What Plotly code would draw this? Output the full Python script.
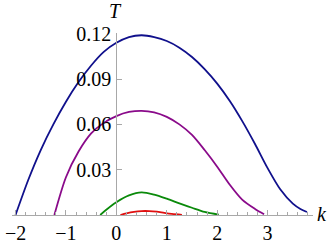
import plotly.graph_objects as go

# Data
k_blue = [-2.0, -1.75, -1.5, -1.25, -1.0, -0.75, -0.5, -0.25, 0.0, 0.25, 0.5, 0.75, 1.0,
          1.25, 1.5, 1.75, 2.0, 2.25, 2.5, 2.75, 3.0, 3.25, 3.5, 3.65, 3.78]
T_blue = [0.0, 0.023, 0.043, 0.060, 0.075, 0.088, 0.099, 0.108, 0.114, 0.1178, 0.119, 0.1178,
          0.1152, 0.1108, 0.1046, 0.0966, 0.087, 0.0755, 0.062, 0.047, 0.031, 0.0170, 0.0075,
          0.0040, 0.0020]

k_purple = [-1.23, -1.0, -0.75, -0.5, -0.25, 0.0, 0.25, 0.5, 0.75, 1.0, 1.25, 1.5, 1.75,
            2.0, 2.25, 2.5, 2.75, 2.93]
T_purple = [0.0, 0.025, 0.042, 0.054, 0.061, 0.0655, 0.0682, 0.069, 0.068, 0.065, 0.060, 0.053,
            0.043, 0.032, 0.020, 0.010, 0.004, 0.0005]

k_green = [-0.32, -0.2, 0.0, 0.25, 0.5, 0.75, 1.0, 1.25, 1.5, 1.75, 2.03]
T_green = [0.0, 0.0035, 0.0085, 0.013, 0.015, 0.0135, 0.0108, 0.0077, 0.0048, 0.002, 0.0002]

k_red = [0.08, 0.2, 0.35, 0.5, 0.65, 0.8, 0.95, 1.1, 1.3]
T_red = [0.0, 0.0011, 0.0021, 0.0026, 0.0026, 0.0022, 0.0014, 0.0007, 0.0001]

x_ticks = [-2, -1, 0, 1, 2, 3]
y_ticks = [0.03, 0.06, 0.09, 0.12]
y_tick_text = ["0.03", "0.06", "0.09", "0.12"]

series = [
    (k_blue, T_blue, "#10108C"),
    (k_purple, T_purple, "#8A0A8A"),
    (k_green, T_green, "#0A8A0A"),
    (k_red, T_red, "#E01010"),
]

fig = go.Figure()
for kx, ty, col in series:
    fig.add_trace(go.Scatter(x=kx, y=ty, mode="lines",
                             line=dict(color=col, width=1.8, shape="spline", smoothing=0.8),
                             showlegend=False, hoverinfo="skip"))

xmin, xmax = -2.07, 3.9
axis_col = "#A8A8A8"
font = dict(family="Liberation Serif, Tinos, serif", size=20, color="black")

fig.update_layout(
    width=327, height=245,
    margin=dict(l=12, r=14, t=33, b=30, autoexpand=False),
    paper_bgcolor="white", plot_bgcolor="white",
    xaxis=dict(range=[xmin, xmax], showgrid=False, zeroline=False, automargin=False,
               showline=True, linecolor=axis_col, linewidth=1,
               tickvals=x_ticks, ticks="inside", ticklen=5, tickcolor=axis_col,
               tickfont=font, ticklabelstandoff=0, ticklabeloverflow="allow",
               minor=dict(dtick=0.2, tick0=0, ticks="inside", ticklen=3, tickcolor=axis_col,
                          showgrid=False)),
    yaxis=dict(range=[0, 0.1205], showgrid=False, zeroline=False, automargin=False,
               showline=True, linecolor=axis_col, linewidth=1,
               anchor="free", position=(0 - xmin) / (xmax - xmin),
               tickvals=y_ticks, ticktext=y_tick_text, ticks="inside", ticklen=5,
               tickcolor=axis_col, tickfont=font, ticklabelstandoff=1,
               ticklabeloverflow="allow"),
    annotations=[
        dict(text="<i>T</i>", x=0, y=1, xref="x", yref="paper", xanchor="center", yanchor="middle",
             xshift=-1, yshift=22, showarrow=False, font=font),
        dict(text="<i>k</i>", x=1, y=0, xref="paper", yref="y", xanchor="left", yanchor="middle",
             xshift=2, yshift=1, showarrow=False, font=font),
    ],
)

# remove the page's default body margin so the figure sits at the window's top-left corner
fig.write_html("out.html",
               config={"displayModeBar": False, "staticPlot": True},
               post_script="document.body.style.margin='0';document.body.style.overflow='hidden';")
